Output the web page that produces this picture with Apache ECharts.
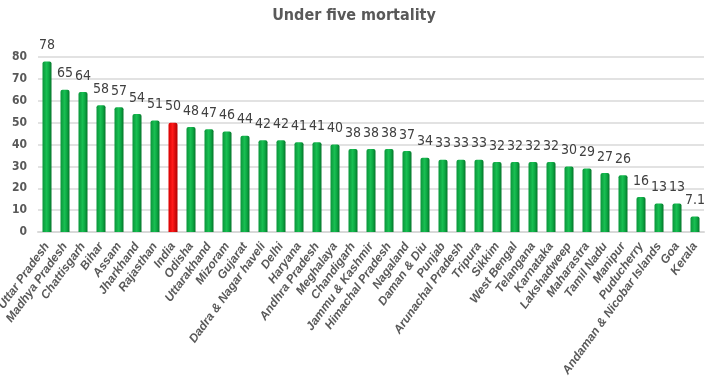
<!DOCTYPE html>
<html><head><meta charset="utf-8">
<script src="https://cdn.jsdelivr.net/npm/echarts@6/dist/echarts.min.js"></script>
<style>html,body{margin:0;padding:0;background:#fff}#c{width:708px;height:378px}</style>
</head><body><div id="c"></div>
<script>
const categories = ["Uttar Pradesh","Madhya Pradesh","Chattisgarh","Bihar","Assam","Jharkhand","Rajasthan","India","Odisha","Uttarakhand","Mizoram","Gujarat","Dadra & Nagar haveli","Delhi","Haryana","Andhra Pradesh","Meghalaya","Chandigarh","Jammu & Kashmir","Himachal Pradesh","Nagaland","Daman & Diu","Punjab","Arunachal Pradesh","Tripura","Sikkim","West Bengal","Telangana","Karnataka","Lakshadweep","Maharastra","Tamil Nadu","Manipur","Puducherry","Andaman & Nicobar Islands","Goa","Kerala"];
const values = [78,65,64,58,57,54,51,50,48,47,46,44,42,42,41,41,40,38,38,38,37,34,33,33,33,32,32,32,32,30,29,27,26,16,13,13,7.1];
const highlight = "India";
const yTicks = [0,10,20,30,40,50,60,70,80];

const NARROW = "'Liberation Sans Narrow','DejaVu Sans Condensed',sans-serif";
const LAB = "'Liberation Sans','Arial',sans-serif";
const green = new echarts.graphic.LinearGradient(0,0,1,0,[
  {offset:0,color:'#0a953a'},{offset:0.45,color:'#18bf52'},{offset:0.7,color:'#0ca843'},{offset:1,color:'#05752a'}]);
const red = new echarts.graphic.LinearGradient(0,0,1,0,[
  {offset:0,color:'#d80000'},{offset:0.45,color:'#ff1a1a'},{offset:1,color:'#b00000'}]);

const chart = echarts.init(document.getElementById('c'));
chart.setOption({
  animation:false,
  title:{text:'Under five mortality',left:'center',top:3,
    textStyle:{fontFamily:NARROW,fontSize:16,fontWeight:'bold',color:'#595959'}},
  grid:{left:38,right:4,top:57,bottom:146,containLabel:false,outerBoundsMode:'none'},
  xAxis:{type:'category',data:categories,
    axisLine:{lineStyle:{color:'#d9d9d9',width:2}},axisTick:{show:false},
    axisLabel:{interval:0,rotate:54,fontFamily:LAB,fontSize:12,fontStyle:'italic',fontWeight:'bold',color:'#595959',margin:12}},
  yAxis:{type:'value',min:0,max:80,interval:10,
    axisLine:{show:false},axisTick:{show:false},
    splitLine:{lineStyle:{color:'#d9d9d9',width:1.5}},
    axisLabel:{fontFamily:NARROW,fontSize:12,fontWeight:'bold',color:'#595959',margin:11,
      formatter:v=>yTicks.includes(v)?String(v):''}},
  series:[{type:'bar',barWidth:9,
    data:values.map((v,i)=>({value:v,itemStyle:{color:categories[i]===highlight?red:green,borderRadius:[2,2,0,0]}})),
    label:{show:true,position:'top',distance:9,fontFamily:NARROW,fontSize:14,color:'#404040'}}]
});
</script></body></html>
